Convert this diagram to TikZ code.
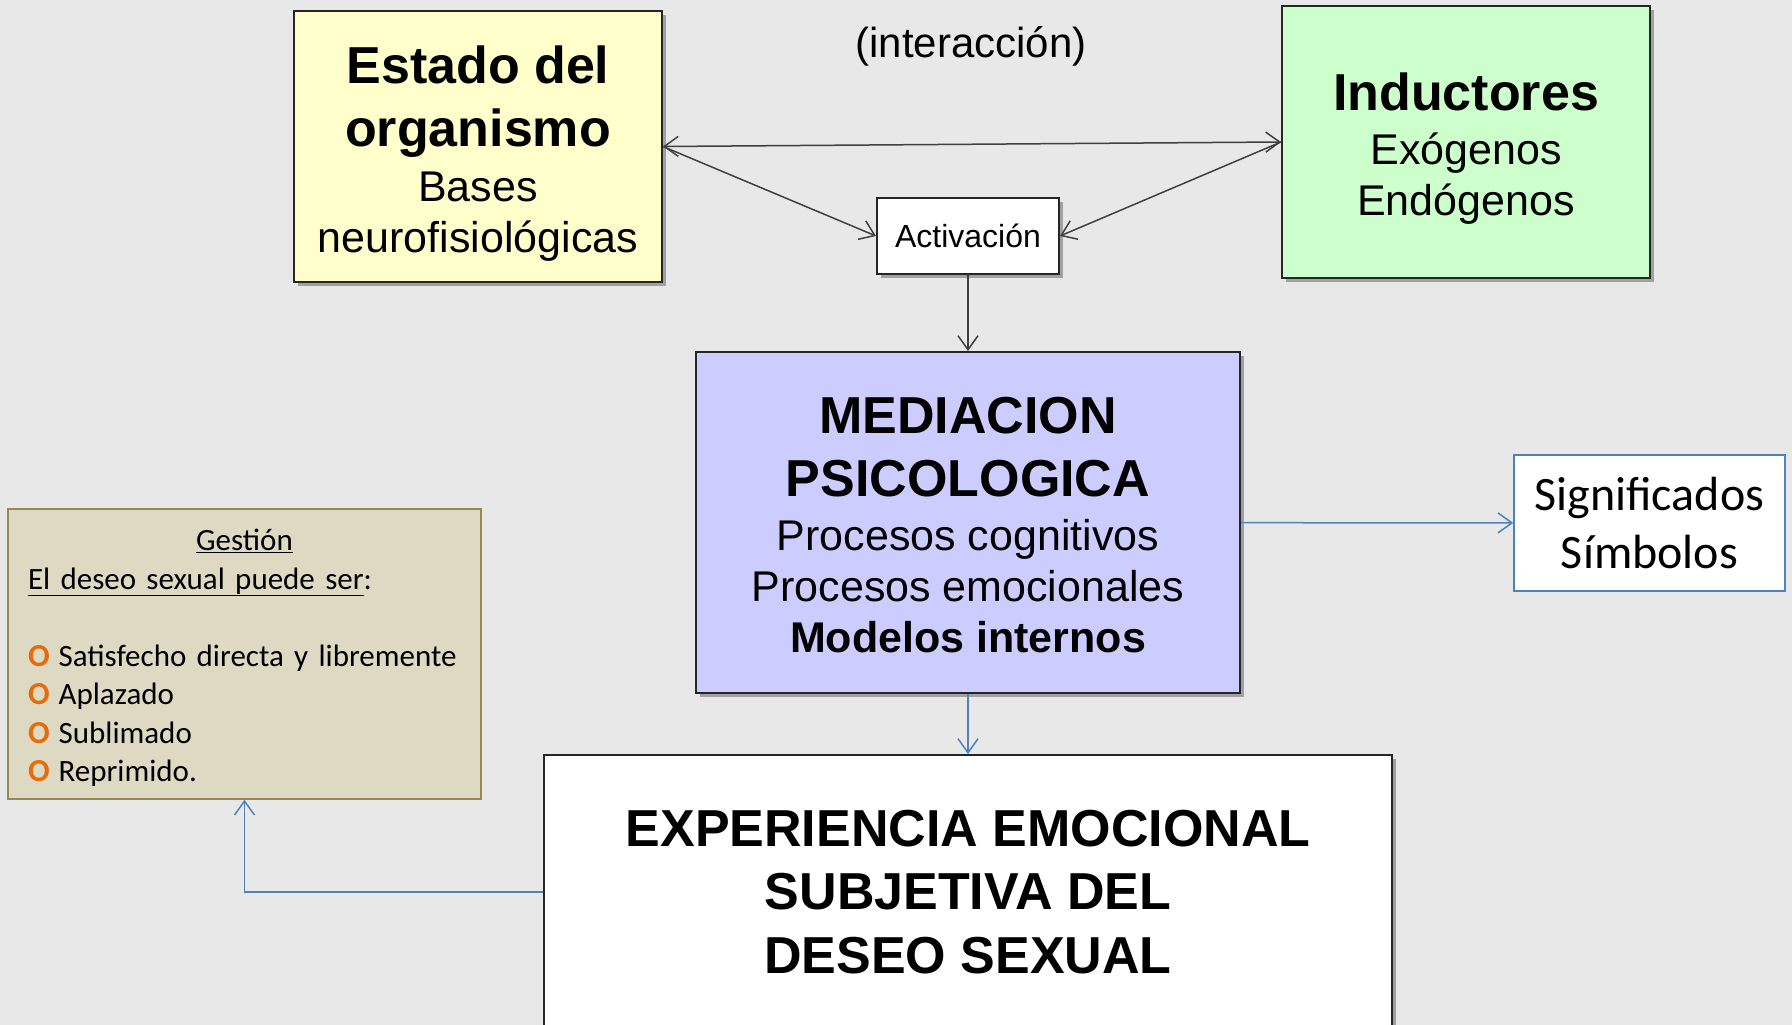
\documentclass[tikz,border=0pt]{standalone}
\usepackage{fontspec}
\setmainfont{Liberation Sans}
\newfontfamily\calibri{Carlito}
\usetikzlibrary{arrows.meta,shadows}
\definecolor{bgGray}{HTML}{E8E8E8}
\definecolor{boxLine}{HTML}{262626}
\definecolor{arrowGray}{HTML}{404040}
\definecolor{linkBlue}{HTML}{4F81BD}
\definecolor{estadoFill}{HTML}{FFFFCC}
\definecolor{inducFill}{HTML}{CCFFCC}
\definecolor{mediaFill}{HTML}{CCCCFF}
\definecolor{gestFill}{HTML}{DDD9C3}
\definecolor{gestLine}{HTML}{948A54}
\definecolor{bulletOrange}{HTML}{E46C0A}
\tikzset{
>={Straight Barb[length=14pt,width=20pt]}, % open arrow heads
box/.style={draw=boxLine, line width=2pt, align=center, inner sep=0pt, font=\fontsize{52}{63.3}\selectfont},
shadowbox/.style={box, drop shadow={shadow xshift=4pt, shadow yshift=-4pt, opacity=.45, fill=black!70}},
grayarrow/.style={->, draw=arrowGray, line width=1.5pt},
bluearrow/.style={->, draw=linkBlue, line width=1.5pt},
}
\newcommand{\titleline}[1]{{\bfseries #1}}
\newcommand{\subline}[1]{{\fontsize{43}{51}\selectfont #1}}
\newcommand{\bul}{\textcolor{bulletOrange}{\bfseries\fontsize{32}{38.5}\selectfont O}\hspace{9pt}}
\begin{document}
\begin{tikzpicture}[x=1pt, y=-1pt]
        \fill[bgGray] (0,0) rectangle (1792,1025);
        \clip (0,0) rectangle (1792,1025);
        \node[shadowbox, fill=estadoFill, minimum width=368pt, minimum height=271pt] at (478,146.5) (estado) {\rule{0pt}{52pt}\titleline{Estado del}\\ \titleline{organismo}\\[-8pt] \subline{Bases}\\[-12pt] \subline{neurofisiológicas}};
        \node[shadowbox, fill=inducFill, minimum width=368pt, minimum height=272pt] at (1466,142) (induc) {\rule{0pt}{51pt}\titleline{Inductores}\\[-9pt] \subline{Exógenos}\\[-12pt] \subline{Endógenos}};
        \node[font=\fontsize{42}{50}\selectfont] at (971,46.5) (inter) {(interacción)};
        \node[shadowbox, fill=white, minimum width=182pt, minimum height=76pt, font=\fontsize{32}{38}\selectfont] at (968,236) (activ) {Activación};
        \node[shadowbox, fill=mediaFill, minimum width=544pt, minimum height=341pt] at (968,522.5) (media) {\rule{0pt}{42pt}\titleline{MEDIACION}\\ \titleline{PSICOLOGICA}\\[-10pt] \subline{Procesos cognitivos}\\[-12pt] \subline{Procesos emocionales}\\[-12pt] \subline{\bfseries Modelos internos}};
        \node[box, draw=linkBlue, line width=1.5pt, fill=white, minimum width=271pt, minimum height=136pt, font=\calibri\fontsize{48}{58}\selectfont] at (1649.5,523) (signif) {Significados\\ Símbolos};
        \node[shadowbox, fill=white, minimum width=848pt, minimum height=274pt] at (968,892) (exper) {\titleline{EXPERIENCIA EMOCIONAL}\\ \titleline{SUBJETIVA DEL}\\ \titleline{DESEO SEXUAL}};
        \node[box, draw=gestLine, line width=1.5pt, fill=gestFill, align=left, text width=433pt, inner xsep=20pt, minimum width=473pt, minimum height=290pt, font=\calibri\fontsize{31}{38.5}\selectfont] at (244.5,654) (gestion) {\rule{0pt}{29pt}\makebox[433pt]{\underline{Gestión}}\\ \underline{El deseo sexual puede ser}:\\ \mbox{}\\ \bul\mbox{Satisfecho directa y libremente}\\ \bul Aplazado\\ \bul Sublimado\\ \bul Reprimido.};
        \draw[grayarrow, <->] (estado.east) -- (induc.west);
        \draw[grayarrow] (estado.east) -- (activ.west);
        \draw[grayarrow] (induc.west) -- (activ.east);
        \draw[grayarrow] (activ) -- (media);
        \draw[bluearrow] (media) -- (exper);
        \draw[bluearrow] (media) -- (signif);
        \draw[bluearrow] (exper.west) -| (gestion.south);
\end{tikzpicture}
\end{document}
